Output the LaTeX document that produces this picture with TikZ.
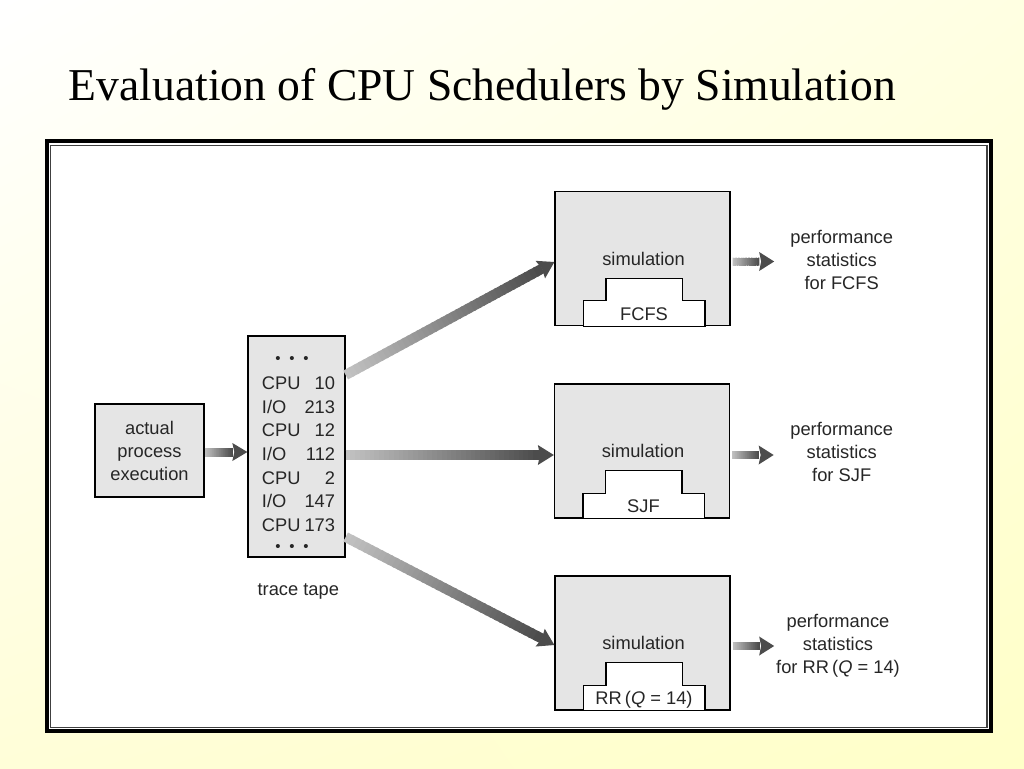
\documentclass[tikz,border=0pt]{standalone}
\usepackage{fontspec}
\setmainfont{Liberation Serif}
\newfontfamily\diagfont{Liberation Sans}
\usetikzlibrary{calc,shadings}
\definecolor{bgUR}{RGB}{255,255,226}
\definecolor{bgLL}{RGB}{255,254,216}
\definecolor{bgLR}{RGB}{255,255,200}
% gradient arrow: #1 from, #2 to, #3 shaft width, #4 head length, #5 half head width
\newcommand\garrow[5]{%
  \path (#1) coordinate (gaS) (#2) coordinate (gaE);
  \path ($(gaE)!#4!(gaS)$) coordinate (gaH);
  \foreach \i in {0,...,39}{%
    \pgfmathsetmacro\ga{\i/40}%
    \pgfmathsetmacro\gb{(\i+1.4)/40}%
    \pgfmathsetmacro\gc{24+46*\i/39}%
    \draw[line width=#3, draw=black!\gc] ($(gaS)!\ga!(gaH)$) -- ($(gaS)!\gb!(gaH)$);
  }
  \fill[black!70] (gaE) -- ($(gaH)!#5!90:(gaE)$) -- ($(gaH)!2pt!(gaE)$) -- ($(gaH)!#5!-90:(gaE)$) -- cycle;
}
\newcommand\dotsrow{\raisebox{3pt}{\fontsize{15}{15}\selectfont\textbullet\hspace{8.7pt}\textbullet\hspace{8.7pt}\textbullet}}
\newcommand\simbox[3]{%
  \node[box, minimum width=175pt, minimum height=134pt] (#1) at (#2) {};
  \filldraw[fill=white, draw=black, line width=1.3pt] ($(#1.south west)+(29,0)$) -- ++(0,-25.5) -- ++(22.7,0) -- ++(0,-22.5) -- ++(76.3,0) -- ++(0,22.5) -- ++(22.7,0) -- ++(0,25.5) -- cycle;
  \node[txt, anchor=base] (#1-sim) at ($(#1.north)+(1,74.5)$) {simulation};
  \node[txt, anchor=base] (#1-lbl) at ($(#1.north)+(1.5,129.5)$) {#3};
}
\begin{document}
\begin{tikzpicture}[x=1pt,y=-1pt,
  box/.style={draw=black, line width=1.3pt, fill=black!10, inner sep=0pt},
  txt/.style={font=\diagfont\fontsize{18.3}{23}\selectfont, text=black!85, inner sep=0pt},
]
\useasboundingbox (0,0) rectangle (1024,768);
\shade[upper left=white, upper right=bgUR, lower left=bgLL, lower right=bgLR] (0,0) rectangle (1024,768);

\node[anchor=base west, font=\fontsize{45.6}{54}\selectfont, inner sep=0pt] (title) at (68.5,100) {Evaluation of CPU Schedulers by Simulation};

% frame
\draw[line width=4pt, fill=white] (46.5,141) rectangle (991,731);
\draw[line width=1.2pt, black!75] (50.5,145.5) rectangle (987,727.5);

% actual process execution
\node[box, txt, align=center, minimum width=109pt, minimum height=93pt] (actual) at (149.5,450.5) {actual\\process\\execution};

% trace tape
\node[box, minimum width=97pt, minimum height=221pt] (trace) at (296.5,446.5) {};
\node[txt] (tracetext) at (298.5,455.8) {\fontsize{18.3}{23.6}\selectfont
  \begin{tabular}{@{}l@{\hspace{4pt}}r@{}}
  \multicolumn{2}{@{}l@{}}{\hspace{13.5pt}\dotsrow}\\
  CPU & 10\\
  I/O & 213\\
  CPU & 12\\
  I/O & 112\\
  CPU & 2\\
  I/O & 147\\
  CPU & 173\\
  \multicolumn{2}{@{}l@{}}{\hspace{13.5pt}\dotsrow}
  \end{tabular}};
\node[txt, anchor=base] (tracelbl) at (298.3,595) {trace tape};

% simulation boxes
\simbox{fcfs}{642.5,258.5}{FCFS}
\simbox{sjf}{642,451}{SJF}
\simbox{rr}{642.5,643}{RR\,(\textit{Q} = 14)}

% statistics
\node[txt, align=center] (fcfsstat) at (841.7,259.5) {performance\\statistics\\for FCFS};
\node[txt, align=center] (sjfstat) at (841.7,452) {performance\\statistics\\for SJF};
\node[txt, align=center] (rrstat) at (838,646) {performance\\statistics\\for RR\,(\textit{Q} = 14)};

% arrows
\garrow{$(actual.east)+(0,1.5)$}{$(trace.west)+(0,5.5)$}{9pt}{15pt}{9pt}
\garrow{$(trace.east)+(0,-71.5)$}{$(fcfs.west)+(0,3.5)$}{10pt}{16pt}{10pt}
\garrow{$(trace.east)+(0,8.5)$}{$(sjf.west)+(0,4)$}{10pt}{16pt}{10pt}
\garrow{$(trace.east)+(0,90.5)$}{$(rr.west)+(0,2)$}{10pt}{16pt}{10pt}
\garrow{$(fcfs.east)+(2,3)$}{$(fcfs.east)+(43.5,3)$}{8pt}{15pt}{9.5pt}
\garrow{$(sjf.east)+(2,4)$}{$(sjf.east)+(43.5,4)$}{8pt}{15pt}{9.5pt}
\garrow{$(rr.east)+(2,3)$}{$(rr.east)+(43.5,3)$}{8pt}{15pt}{9.5pt}
\end{tikzpicture}
\end{document}
